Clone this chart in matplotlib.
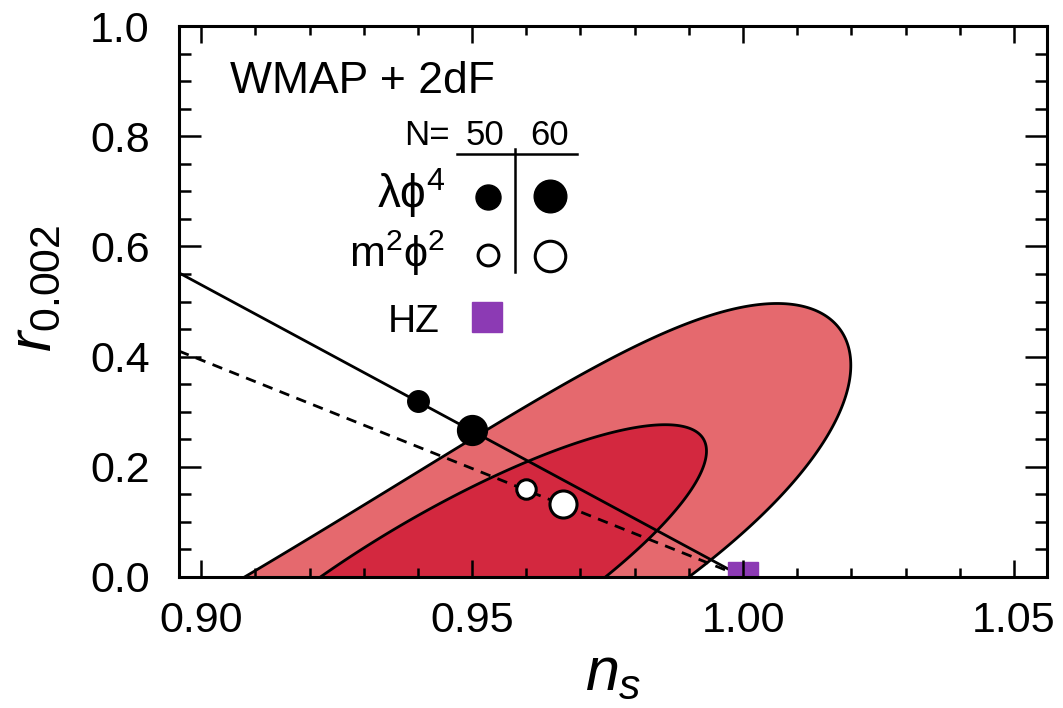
import numpy as np
import matplotlib
matplotlib.use("Agg")
import matplotlib.pyplot as plt
from matplotlib.ticker import MultipleLocator, FixedLocator

plt.rcParams['font.family'] = ['Liberation Sans', 'DejaVu Sans']
plt.rcParams['mathtext.fontset'] = 'custom'
plt.rcParams['mathtext.rm'] = 'Liberation Sans'
plt.rcParams['mathtext.it'] = 'Liberation Sans:italic'
plt.rcParams['mathtext.bf'] = 'Liberation Sans:bold'
plt.rcParams['lines.scale_dashes'] = False

# ---------------- data ----------------
ns_limits = [0.8959, 1.0561]
r_limits = [0.0, 1.0]
x_ticks = [0.90, 0.95, 1.00, 1.05]
x_ticklabels = ["0.90", "0.95", "1.00", "1.05"]
y_ticks = [0.0, 0.2, 0.4, 0.6, 0.8, 1.0]
y_ticklabels = ["0.0", "0.2", "0.4", "0.6", "0.8", "1.0"]

# confidence-region shapes:
# [ridge ns at r=0, ridge slope, ridge curvature, ns half-width, r centre, r half-height]
outer_region = [0.9490, 0.153, -0.0758, 0.0428, -0.200, 0.6964]   # 95%
inner_region = [0.9483, 0.135, 0.0, 0.02647, -0.035, 0.3114]      # 68%

# model predictions
lam_line_ns = [0.8959, 1.0]
lam_line_r = [0.552, 0.0]
m2_line_ns = [0.8959, 1.0]
m2_line_r = [0.410, 0.0]
lam_pts_ns = [0.940, 0.950]
lam_pts_r = [0.320, 0.267]
m2_pts_ns = [0.960, 0.9667]
m2_pts_r = [0.160, 0.133]
hz_ns = [1.0]
hz_r = [0.0]

outer_color = '#E5696E'
inner_color = '#D3283F'
hz_color = '#8C3AB4'

# ---------------- figure ----------------
fig = plt.figure(figsize=(10.63, 7.08), dpi=100)
ax = fig.add_axes([179/1063, 1-577/708, 868/1063, 551/708])


def region_outline(p):
    a0, a1, a2, h, rc, rb = p
    th = np.linspace(0, 2*np.pi, 600)
    r = rc + rb*np.sin(th)
    ns = a0 + a1*r + a2*r*r + h*np.cos(th)
    return ns, r


for p, col, z in [(outer_region, outer_color, 1.0), (inner_region, inner_color, 1.1)]:
    ns_o, r_o = region_outline(p)
    ax.fill(ns_o, r_o, facecolor=col, edgecolor='black', linewidth=2.0, zorder=z)

ax.plot(lam_line_ns, lam_line_r, color='black', lw=2.0, zorder=2)
ax.plot(m2_line_ns, m2_line_r, color='black', lw=2.0, dashes=[7.5, 5.5], zorder=2)
ax.plot(lam_pts_ns[:1], lam_pts_r[:1], 'o', color='black', ms=15.5, zorder=3)
ax.plot(lam_pts_ns[1:], lam_pts_r[1:], 'o', color='black', ms=21.5, zorder=3)
ax.plot(m2_pts_ns[:1], m2_pts_r[:1], 'o', mfc='white', mec='black', mew=2.2, ms=14, zorder=3)
ax.plot(m2_pts_ns[1:], m2_pts_r[1:], 'o', mfc='white', mec='black', mew=2.2, ms=19.5, zorder=3)
ax.plot(hz_ns, hz_r, 's', color=hz_color, ms=22, zorder=2.2)

ax.set_xlim(ns_limits)
ax.set_ylim(r_limits)
ax.xaxis.set_major_locator(FixedLocator(x_ticks))
ax.set_xticklabels(x_ticklabels)
ax.xaxis.set_minor_locator(MultipleLocator(0.01))
ax.yaxis.set_major_locator(FixedLocator(y_ticks))
ax.set_yticklabels(y_ticklabels)
ax.yaxis.set_minor_locator(MultipleLocator(0.05))
ax.set_axisbelow(False)
for s in ax.spines.values():
    s.set_linewidth(2.2)
ax.tick_params(axis='both', which='both', direction='in', top=True, right=True, width=1.8, labelsize=31)
ax.tick_params(axis='x', which='major', length=12, pad=17)
ax.tick_params(axis='x', which='minor', length=6.5)
ax.tick_params(axis='y', which='major', length=16, pad=21)
ax.tick_params(axis='y', which='minor', length=8.5)

ax.set_xlabel(r'$n_s$', fontsize=44)
ax.xaxis.set_label_coords(0.5, -0.125)
ax.set_ylabel(r'$r_{0.002}$', fontsize=44)
ax.yaxis.set_label_coords(-0.1336, 0.523)

# ---------------- in-plot legend ----------------
tA = ax.transAxes
ax.text(0.0588, 0.878, 'WMAP + 2dF', transform=tA, fontsize=32, ha='left', va='baseline')
ax.text(0.312, 0.784, 'N=', transform=tA, fontsize=25, ha='right', va='baseline')
ax.text(0.3525, 0.784, '50', transform=tA, fontsize=25, ha='center', va='baseline')
ax.text(0.4274, 0.784, '60', transform=tA, fontsize=25, ha='center', va='baseline')
ax.plot([0.3203, 0.4585], [0.7677, 0.7677], color='black', lw=1.8, transform=tA, clip_on=False)
ax.plot([0.3871, 0.3871], [0.7768, 0.5535], color='black', lw=1.8, transform=tA, clip_on=False)
ax.text(0.3065, 0.6697, 'λϕ$^4$', transform=tA, fontsize=33, ha='right', va='baseline')
ax.text(0.3065, 0.5626, 'm$^2$ϕ$^2$', transform=tA, fontsize=31, ha='right', va='baseline')
ax.plot([0.356], [0.6897], 'o', color='black', ms=18, transform=tA)
ax.plot([0.4274], [0.6915], 'o', color='black', ms=23.5, transform=tA)
ax.plot([0.356], [0.5844], 'o', mfc='white', mec='black', mew=2.2, ms=15, transform=tA)
ax.plot([0.4274], [0.5826], 'o', mfc='white', mec='black', mew=2.2, ms=22, transform=tA)
ax.text(0.3007, 0.4446, 'HZ', transform=tA, fontsize=28, ha='right', va='baseline')
ax.plot([0.3548], [0.4719], 's', color=hz_color, ms=21.5, transform=tA)

fig.savefig('out.png', dpi=100)
